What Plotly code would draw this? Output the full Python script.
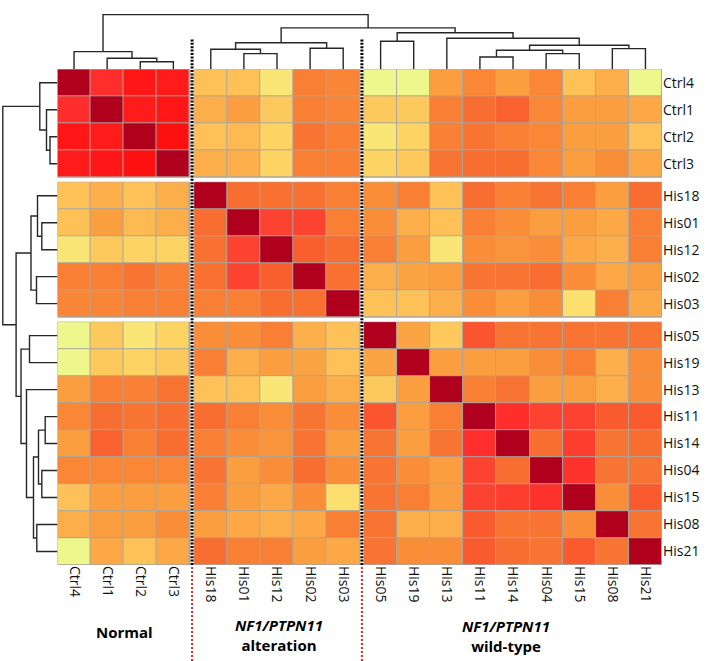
import plotly.graph_objects as go

# ---------------- data ----------------
labels = ["Ctrl4", "Ctrl1", "Ctrl2", "Ctrl3",
          "His18", "His01", "His12", "His02", "His03",
          "His05", "His19", "His13", "His11", "His14", "His04", "His15", "His08", "His21"]
group_names = ["Normal", "NF1/PTPN11 alteration", "NF1/PTPN11 wild-type"]
group_sizes = [4, 5, 9]

# lower triangle of the (symmetric) correlation matrix, in display order
corr_lower = [
    [1.00],
    [0.85, 1.00],
    [0.90, 0.89, 1.00],
    [0.89, 0.90, 0.92, 1.00],
    [0.45, 0.50, 0.45, 0.50, 1.00],
    [0.45, 0.55, 0.47, 0.50, 0.70, 1.00],
    [0.35, 0.43, 0.40, 0.40, 0.69, 0.80, 1.00],
    [0.65, 0.65, 0.68, 0.65, 0.69, 0.80, 0.74, 1.00],
    [0.63, 0.63, 0.65, 0.65, 0.65, 0.65, 0.70, 0.69, 1.00],
    [0.30, 0.43, 0.35, 0.40, 0.60, 0.60, 0.65, 0.50, 0.45, 1.00],
    [0.30, 0.43, 0.40, 0.43, 0.65, 0.50, 0.55, 0.53, 0.45, 0.53, 1.00],
    [0.55, 0.65, 0.65, 0.68, 0.45, 0.45, 0.35, 0.55, 0.50, 0.43, 0.55, 1.00],
    [0.62, 0.70, 0.68, 0.70, 0.70, 0.65, 0.60, 0.68, 0.60, 0.76, 0.55, 0.65, 1.00],
    [0.55, 0.73, 0.65, 0.70, 0.65, 0.60, 0.58, 0.68, 0.55, 0.68, 0.55, 0.68, 0.85, 1.00],
    [0.62, 0.62, 0.62, 0.62, 0.68, 0.55, 0.60, 0.70, 0.60, 0.68, 0.60, 0.55, 0.80, 0.70, 1.00],
    [0.45, 0.55, 0.55, 0.55, 0.65, 0.55, 0.52, 0.60, 0.37, 0.68, 0.65, 0.55, 0.80, 0.81, 0.84, 1.00],
    [0.50, 0.55, 0.55, 0.60, 0.55, 0.52, 0.50, 0.52, 0.65, 0.68, 0.50, 0.50, 0.75, 0.68, 0.68, 0.60, 1.00],
    [0.30, 0.52, 0.45, 0.52, 0.70, 0.65, 0.65, 0.55, 0.52, 0.68, 0.60, 0.60, 0.75, 0.70, 0.68, 0.75, 0.68, 1.00],
]

# hierarchical clustering (same tree for rows and columns)
# (left id, right id, height); leaves 0..17, merged clusters numbered from 18 on
linkage = [
    (2, 3, 7.5),
    (1, 18, 11.0),
    (0, 19, 17.7),
    (5, 6, 15.7),
    (4, 21, 20.0),
    (7, 8, 21.0),
    (22, 23, 26.5),
    (9, 10, 28.0),
    (12, 13, 12.3),
    (14, 15, 15.7),
    (26, 27, 19.0),
    (16, 17, 20.7),
    (28, 29, 24.0),
    (11, 30, 31.0),
    (25, 31, 36.5),
    (24, 32, 41.4),
    (20, 33, 54.7),
]

# ---------------- build ----------------
n = len(labels)
corr = [[0.0] * n for _ in range(n)]
for i, row in enumerate(corr_lower):
    for j, v in enumerate(row):
        corr[i][j] = v
        corr[j][i] = v

W, H = 713, 661
hm_left, hm_right, hm_top, hm_bottom = 57.5, 662.0, 69.3, 565.0
gap_x, gap_y = 0.13, 0.185

grp = []
for g, s in enumerate(group_sizes):
    grp += [g] * s
starts = [sum(group_sizes[:g]) for g in range(len(group_sizes))]
ends = [starts[g] + group_sizes[g] for g in range(len(group_sizes))]
cx = [i + 0.5 + gap_x * grp[i] for i in range(n)]
cy = [i + 0.5 + gap_y * grp[i] for i in range(n)]
xmax = n + gap_x * (len(group_sizes) - 1)
ymax = n + gap_y * (len(group_sizes) - 1)

colorscale_pts = [
    (0.30, "#eef78c"), (0.35, "#f9e676"), (0.40, "#fdd464"), (0.45, "#fdc158"),
    (0.50, "#fcae4a"), (0.55, "#fb9e3f"), (0.60, "#f98d38"), (0.65, "#f97f34"),
    (0.70, "#f86d30"), (0.75, "#f95a2e"), (0.80, "#fc4230"), (0.85, "#ff2e2c"),
    (0.90, "#ff1616"), (0.949, "#f80808"), (0.95, "#b0001e"), (1.00, "#b0001e"),
]
zmin, zmax = 0.30, 1.00
colorscale = [[(v - zmin) / (zmax - zmin), c] for v, c in colorscale_pts]

fig = go.Figure()
grid_col = "#aaa69e"
shapes = []
for gr in range(len(group_sizes)):
    for gc in range(len(group_sizes)):
        rows = list(range(starts[gr], ends[gr]))
        cols = list(range(starts[gc], ends[gc]))
        z = [[corr[r][c] for c in cols] for r in rows]
        fig.add_trace(go.Heatmap(
            z=z, x=[cx[c] for c in cols], y=[cy[r] for r in rows],
            coloraxis="coloraxis", xgap=1, ygap=1, hoverinfo="skip",
            xaxis="x", yaxis="y"))
        shapes.append(dict(
            type="rect", xref="x", yref="y", layer="below",
            x0=starts[gc] + gap_x * gc, x1=ends[gc] + gap_x * gc,
            y0=starts[gr] + gap_y * gr, y1=ends[gr] + gap_y * gr,
            fillcolor=grid_col, line=dict(color=grid_col, width=1)))

# dendrogram geometry
hgt = {i: 0.0 for i in range(n)}
for k, (a, b, h) in enumerate(linkage):
    hgt[n + k] = h


def coords(centers):
    p = {i: centers[i] for i in range(n)}
    out_pos, out_h = [], []
    for k, (a, b, h) in enumerate(linkage):
        p[n + k] = (p[a] + p[b]) / 2.0
        out_pos.append([p[a], p[a], p[b], p[b]])
        out_h.append([hgt[a], h, h, hgt[b]])
    return out_pos, out_h


dend_col = "#262626"
tp, th = coords(cx)
xs, ys = [], []
for p4, h4 in zip(tp, th):
    xs += p4 + [None]
    ys += h4 + [None]
fig.add_trace(go.Scatter(x=xs, y=ys, mode="lines", xaxis="x", yaxis="y2",
                         line=dict(color=dend_col, width=1.4), hoverinfo="skip",
                         showlegend=False))
lp, lh = coords(cy)
xs, ys = [], []
for p4, h4 in zip(lp, lh):
    xs += h4 + [None]
    ys += p4 + [None]
fig.add_trace(go.Scatter(x=xs, y=ys, mode="lines", xaxis="x3", yaxis="y",
                         line=dict(color=dend_col, width=1.4), hoverinfo="skip",
                         showlegend=False))

# group separators (dotted)
for g in range(1, len(group_sizes)):
    xsep = starts[g] + gap_x * g - gap_x / 2.0
    shapes.append(dict(type="line", xref="x", yref="paper", x0=xsep, x1=xsep,
                       y0=1 - hm_bottom / H, y1=1 - 39 / H,
                       line=dict(color="black", width=3, dash="2px,1.4px")))
    shapes.append(dict(type="line", xref="x", yref="paper", x0=xsep, x1=xsep,
                       y0=0, y1=1 - (hm_bottom + 1.5) / H,
                       line=dict(color="#d42a2a", width=2, dash="2px,2px")))

font_fam = "Open Sans, DejaVu Sans, sans-serif"
ann = []
def px_ann(text, x, y):
    ann.append(dict(text=text, xref="paper", yref="paper", x=x / W, y=1 - y / H,
                    xanchor="center", yanchor="middle", showarrow=False,
                    font=dict(family=font_fam, size=15, color="black")))

px_ann("<b>" + group_names[0] + "</b>", 124.5, 632)
px_ann("<b><i>NF1/PTPN11</i></b><br><b>alteration</b>", 279, 635)
px_ann("<b><i>NF1/PTPN11</i></b><br><b>wild-type</b>", 506, 636)

fig.update_layout(
    width=W, height=H, margin=dict(l=0, r=0, t=0, b=0),
    paper_bgcolor="white", plot_bgcolor="white", showlegend=False,
    coloraxis=dict(colorscale=colorscale, cmin=zmin, cmax=zmax, showscale=False),
    xaxis=dict(domain=[hm_left / W, hm_right / W], range=[0, xmax], anchor="y",
               tickmode="array", tickvals=cx, ticktext=labels, tickangle=90,
               ticks="", showgrid=False, zeroline=False, showline=False,
               tickfont=dict(family=font_fam, size=14, color="#111"), automargin=False),
    yaxis=dict(domain=[1 - hm_bottom / H, 1 - hm_top / H], range=[ymax, 0], anchor="x",
               side="right", tickmode="array", tickvals=cy, ticktext=labels,
               ticks="", showgrid=False, zeroline=False, showline=False,
               tickfont=dict(family=font_fam, size=14, color="#111"), automargin=False),
    yaxis2=dict(domain=[1 - hm_top / H, 1], range=[0, hm_top], anchor="x",
                visible=False, fixedrange=True),
    xaxis3=dict(domain=[0, hm_left / W], range=[hm_left, 0], anchor="y",
                visible=False, fixedrange=True),
    shapes=shapes, annotations=ann,
)

fig.write_html("out.html", config={"displayModeBar": False},
               post_script="document.body.style.margin='0';document.body.style.padding='0';")
